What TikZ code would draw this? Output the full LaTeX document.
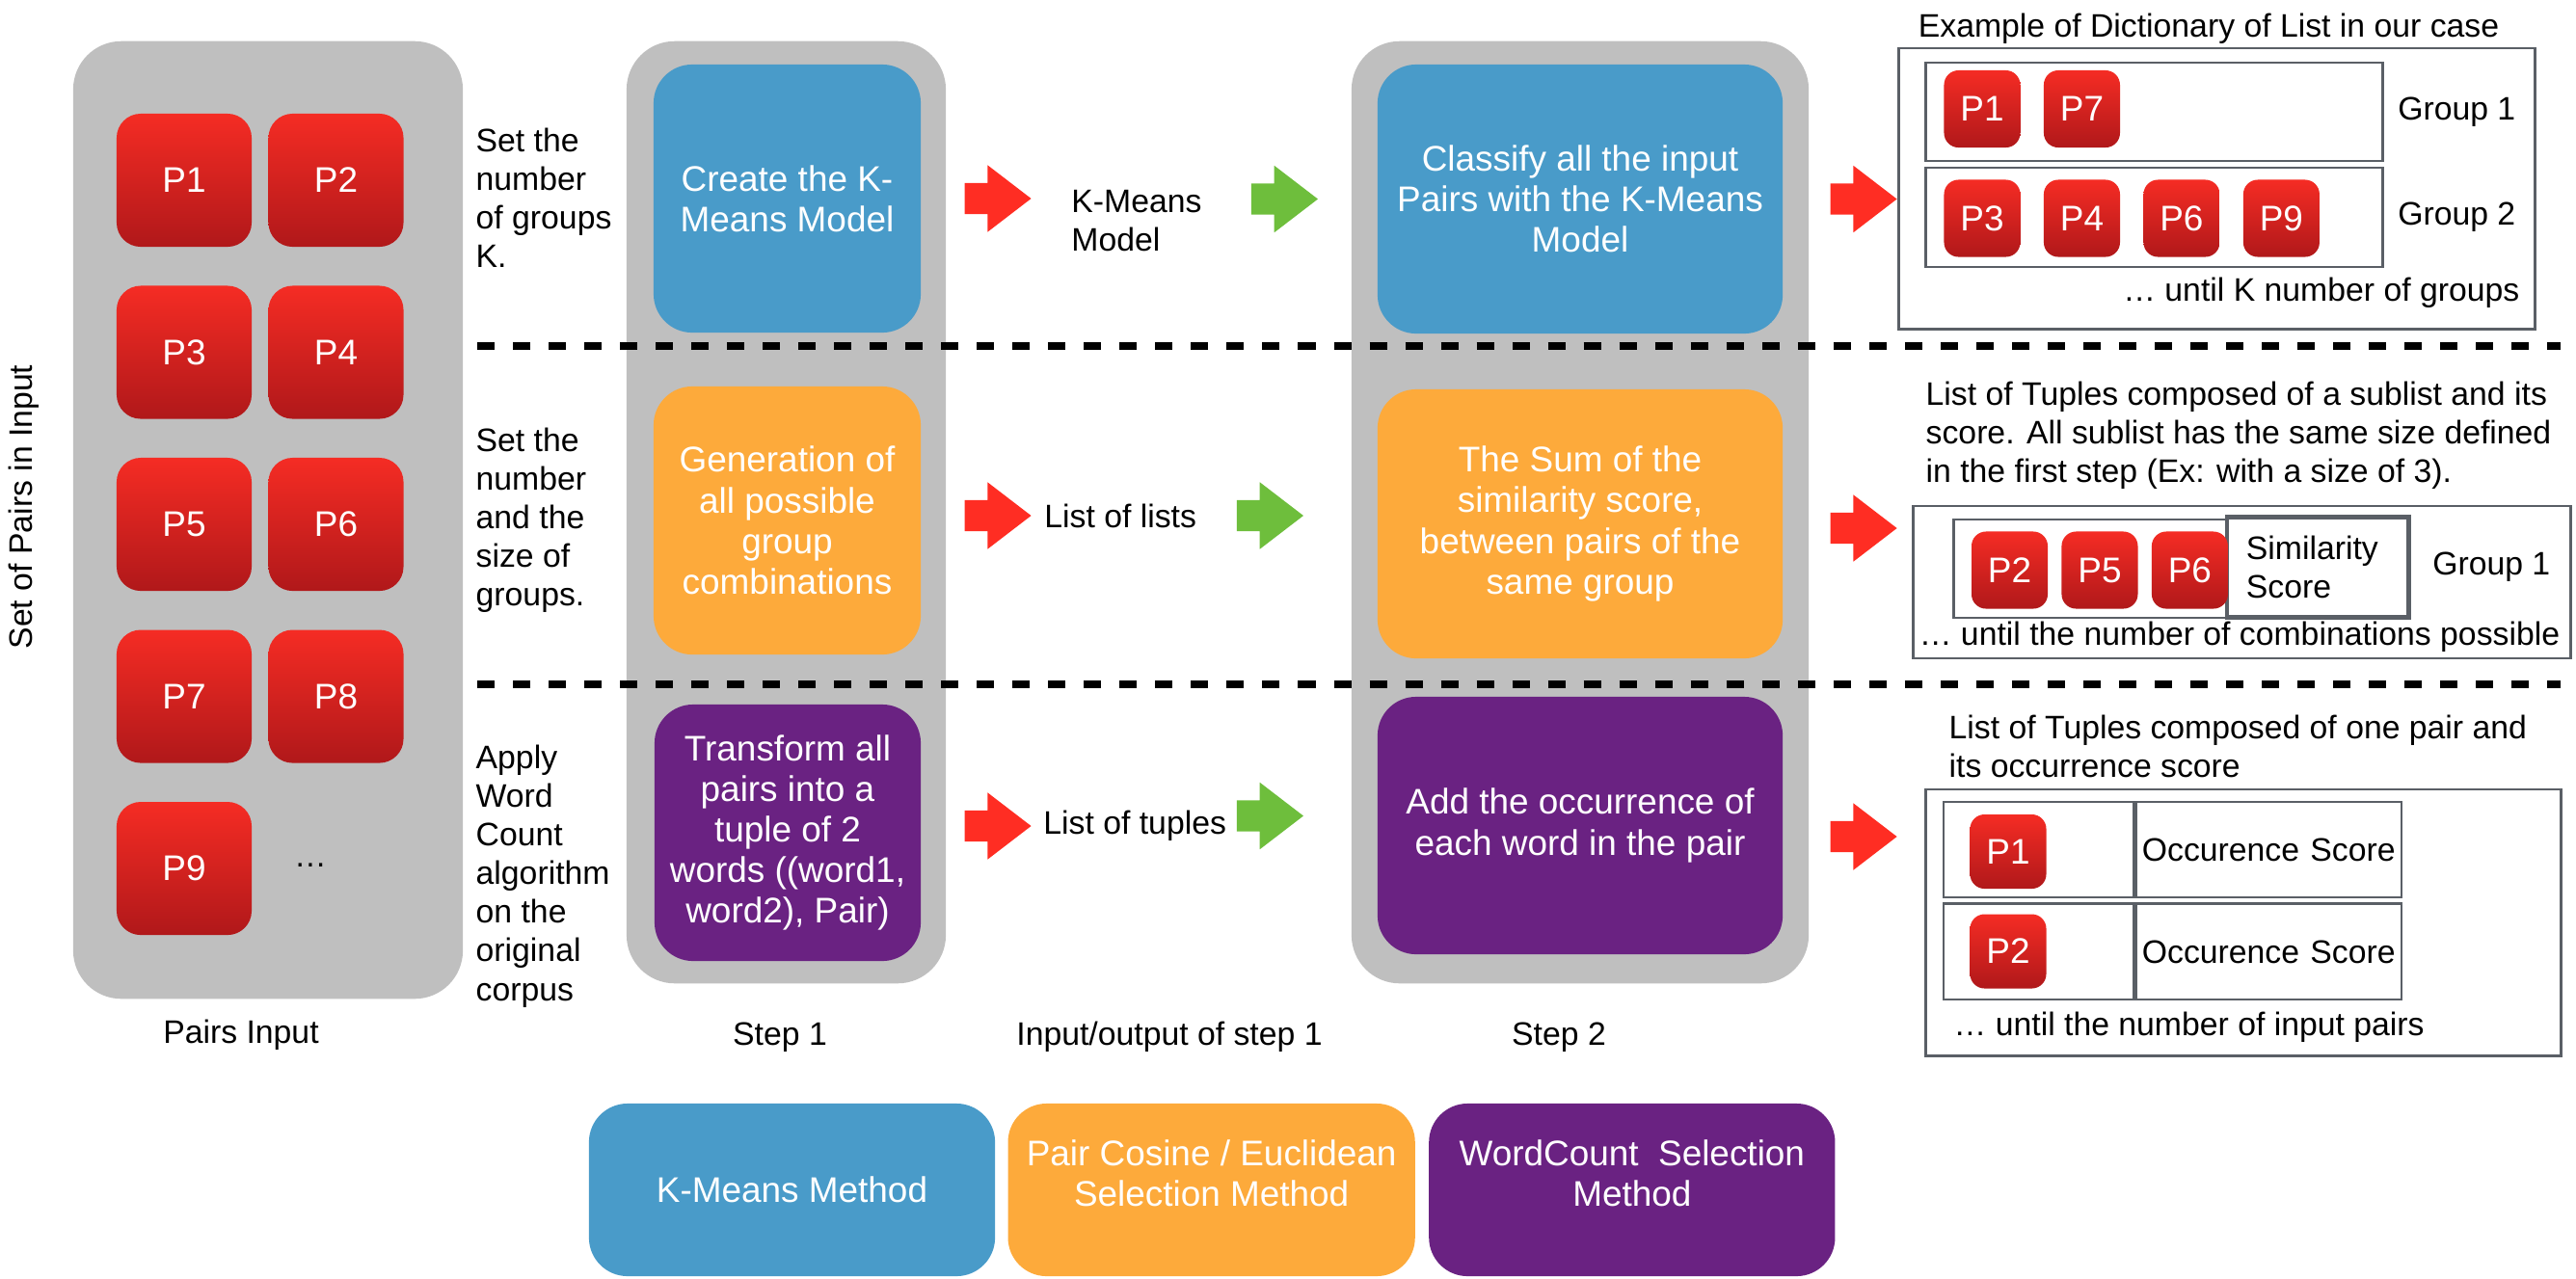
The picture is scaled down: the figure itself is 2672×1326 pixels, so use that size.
\documentclass[tikz,border=0pt]{standalone}
\usepackage{fontspec}
\setmainfont{Liberation Sans}
\usepackage{tikz}
\usetikzlibrary{positioning,shapes.arrows}
\definecolor{panelgray}{RGB}{191,191,191}
\definecolor{kblue}{RGB}{73,155,201}
\definecolor{korange}{RGB}{253,170,59}
\definecolor{kpurple}{RGB}{106,34,130}
\definecolor{ptop}{RGB}{245,44,36}
\definecolor{pbot}{RGB}{176,24,26}
\definecolor{redarr}{RGB}{255,45,35}
\definecolor{greenarr}{RGB}{110,190,60}
\definecolor{frame}{RGB}{90,95,102}

\begin{document}
\begin{tikzpicture}[x=0.01cm, y=-0.01cm,
  font=\fontsize{9.6}{11.4}\selectfont,
  panel/.style={fill=panelgray, rounded corners=0.5cm},
  stepbox/.style={rounded corners=0.4cm, text=white, align=center, font=\fontsize{10.5}{12}\selectfont},
  pbig/.style={rounded corners=0.25cm, top color=ptop, bottom color=pbot, text=white, minimum width=1.4cm, minimum height=1.38cm, font=\fontsize{10.5}{12}\selectfont},
  psmall/.style={pbig, rounded corners=0.15cm, minimum width=0.79cm, minimum height=0.8cm},
  redarrow/.style={single arrow, fill=redarr, minimum height=0.69cm, single arrow head extend=0.185cm, single arrow tip angle=75, inner xsep=0, inner ysep=0.155cm},
  greenarrow/.style={redarrow, fill=greenarr},
  sep/.style={line width=0.08cm, dash pattern=on 0.18cm off 0.19cm},
  frm/.style={draw=frame, line width=0.8pt},
  note/.style={align=left, inner sep=0}
]
\useasboundingbox (0,0) rectangle (2672,1326);

\node[panel, minimum width=4.04cm, minimum height=9.93cm] (inpanel) at (278,539.5) {};
\node[pbig] (p1) at (191,187) {P1};
\node[pbig, right=0.16cm of p1] (p2) {P2};
\node[pbig, below=0.39cm of p1] (p3) {P3};
\node[pbig, right=0.16cm of p3] (p4) {P4};
\node[pbig, below=0.39cm of p3] (p5) {P5};
\node[pbig, right=0.16cm of p5] (p6) {P6};
\node[pbig, below=0.39cm of p5] (p7) {P7};
\node[pbig, right=0.16cm of p7] (p8) {P8};
\node[pbig, below=0.39cm of p7] (p9) {P9};
\node (pmore) at (322,898) {…};
\node[rotate=90] (setlbl) at (25,526) {Set of Pairs in Input};
\node (pairslbl) at (250,1074) {Pairs Input};

\node[note, anchor=west] (txtk) at (493,205) {Set the\\number\\of groups\\K.};
\node[note, anchor=west] (txtsize) at (493,540) {Set the\\number\\and the\\size of\\groups.};
\node[note, anchor=west] (txtwc) at (493,909) {Apply\\Word\\Count\\algorithm\\on the\\original\\corpus};

\node[panel, minimum width=3.31cm, minimum height=9.77cm] (step1) at (815.5,531.5) {};
\node[panel, minimum width=4.74cm, minimum height=9.77cm] (step2) at (1639,531.5) {};

\node[stepbox, fill=kblue, minimum width=2.77cm, minimum height=2.78cm] (kmcreate) at (816.5,206) {Create the K-\\Means Model};
\node[stepbox, fill=korange, minimum width=2.77cm, minimum height=2.78cm] (gencomb) at (816.5,540) {Generation of\\all possible\\group\\combinations};
\node[stepbox, fill=kpurple, minimum width=2.76cm, minimum height=2.66cm] (wctrans) at (817,864) {Transform all\\pairs into a\\tuple of 2\\words ((word1,\\word2), Pair)};
\node[stepbox, fill=kblue, minimum width=4.2cm, minimum height=2.79cm] (kmclass) at (1639,206.5) {Classify all the input\\Pairs with the K-Means\\Model};
\node[stepbox, fill=korange, minimum width=4.2cm, minimum height=2.79cm] (simsum) at (1639,543.5) {The Sum of the\\similarity score,\\between pairs of the\\same group};
\node[stepbox, fill=kpurple, minimum width=4.2cm, minimum height=2.67cm] (occadd) at (1639,856.5) {Add the occurrence of\\each word in the pair};

\draw[sep] (495,359) -- (2656,359);
\draw[sep] (495,710) -- (2656,710);

\node[redarrow, right=0.44cm of kmcreate] (ra1) {};
\node[redarrow, right=0.44cm of gencomb, yshift=0.05cm] (ra2) {};
\node[redarrow, right=0.44cm of wctrans, yshift=0.07cm] (ra3) {};
\node[note, right=0.4cm of ra1, yshift=-0.23cm] (iokm) {K-Means\\Model};
\node[note, right=0.12cm of ra2] (iolists) {List of lists};
\node[note, right=0.11cm of ra3] (iotuples) {List of tuples};
\node[greenarrow, left=0.6cm of kmclass] (ga1) {};
\node[greenarrow, left=0.75cm of simsum, yshift=0.085cm] (ga2) {};
\node[greenarrow, left=0.75cm of occadd, yshift=0.1cm] (ga3) {};

\node (step1lbl) at (809,1076) {Step 1};
\node (iolbl) at (1213,1076) {Input/output of step 1};
\node (step2lbl) at (1617,1076) {Step 2};

\node[redarrow, right=0.48cm of kmclass] (oa1) {};
\node[redarrow, right=0.48cm of simsum, yshift=-0.045cm] (oa2) {};
\node[redarrow, right=0.48cm of occadd, yshift=-0.115cm] (oa3) {};

\node (dicttitle) at (2291,30) {Example of Dictionary of List in our case};
\node[frm, minimum width=6.59cm, minimum height=2.91cm] (dict) at (2299.5,195.5) {};
\node[frm, minimum width=4.73cm, minimum height=1.02cm] (grp1) at (2234.5,116) {};
\node[frm, minimum width=4.73cm, minimum height=1.03cm] (grp2) at (2234.5,225.5) {};
\node[psmall] (d1) at (2056,113) {P1};
\node[psmall, right=0.23cm of d1] (d7) {P7};
\node[psmall] (d3) at (2056,226.5) {P3};
\node[psmall, right=0.23cm of d3] (d4) {P4};
\node[psmall, right=0.23cm of d4] (d6) {P6};
\node[psmall, right=0.23cm of d6] (d9) {P9};
\node[note, right=0.14cm of grp1] (g1lbl) {Group 1};
\node[note, right=0.14cm of grp2] (g2lbl) {Group 2};
\node[inner sep=0, anchor=east] (kuntil) at (2614,304) {… until K number of groups};

\node[note, anchor=west] (tupdesc) at (1997,452) {List of Tuples composed of a sublist and its\\score. All sublist has the same size defined\\in the first step (Ex: with a size of 3).};
\node[frm, minimum width=6.81cm, minimum height=1.58cm] (combo) at (2325.5,604) {};
\node[frm, minimum width=4.71cm, minimum height=1.02cm] (sublist) at (2262.5,590) {};
\node[frm, line width=1.4pt, fill=white, text width=1.48cm, inner xsep=0.2cm, minimum height=1.04cm, align=left] (simscore) at (2404,588.5) {Similarity\\Score};
\node[psmall] (c2) at (2084.5,591.5) {P2};
\node[psmall, right=0.13cm of c2] (c5) {P5};
\node[psmall, right=0.13cm of c5] (c6) {P6};
\node[note, right=0.22cm of simscore] (c1lbl) {Group 1};
\node (cuntil) at (2323,661) {… until the number of combinations possible};

\node[note, anchor=west] (occdesc) at (2021,774) {List of Tuples composed of one pair and\\its occurrence score};
\node[frm, minimum width=6.58cm, minimum height=2.76cm] (occlist) at (2327,957) {};
\node[frm, minimum width=1.97cm, minimum height=0.99cm] (o1pair) at (2114.5,881.5) {};
\node[frm, minimum width=2.75cm, minimum height=0.99cm, text width=2.63cm, inner xsep=0.06cm, align=left, right=0pt of o1pair] (o1score) {Occurence Score};
\node[frm, minimum width=1.97cm, minimum height=0.99cm, below=0.04cm of o1pair] (o2pair) {};
\node[frm, minimum width=2.75cm, minimum height=0.99cm, text width=2.63cm, inner xsep=0.06cm, align=left, right=0pt of o2pair] (o2score) {Occurence Score};
\node[psmall, minimum height=0.77cm] (q1) at (2083,883.5) {P1};
\node[psmall, minimum height=0.77cm] (q2) at (2083,987) {P2};
\node[note, anchor=west] (quntil) at (2026,1066) {… until the number of input pairs};

\node[stepbox, fill=kblue, minimum width=4.21cm, minimum height=1.79cm] (legkm) at (821.5,1234.5) {K-Means Method};
\node[stepbox, fill=korange, minimum width=4.22cm, minimum height=1.79cm, right=0.12cm of legkm,
  label={[stepbox, yshift=0.17cm]center:{Pair Cosine / Euclidean\\Selection Method}}] (legpair) {};
\node[stepbox, fill=kpurple, minimum width=4.21cm, minimum height=1.79cm, right=0.13cm of legpair,
  label={[stepbox, yshift=0.17cm]center:{WordCount\ \ Selection\\Method}}] (legwc) {};
\end{tikzpicture}
\end{document}
